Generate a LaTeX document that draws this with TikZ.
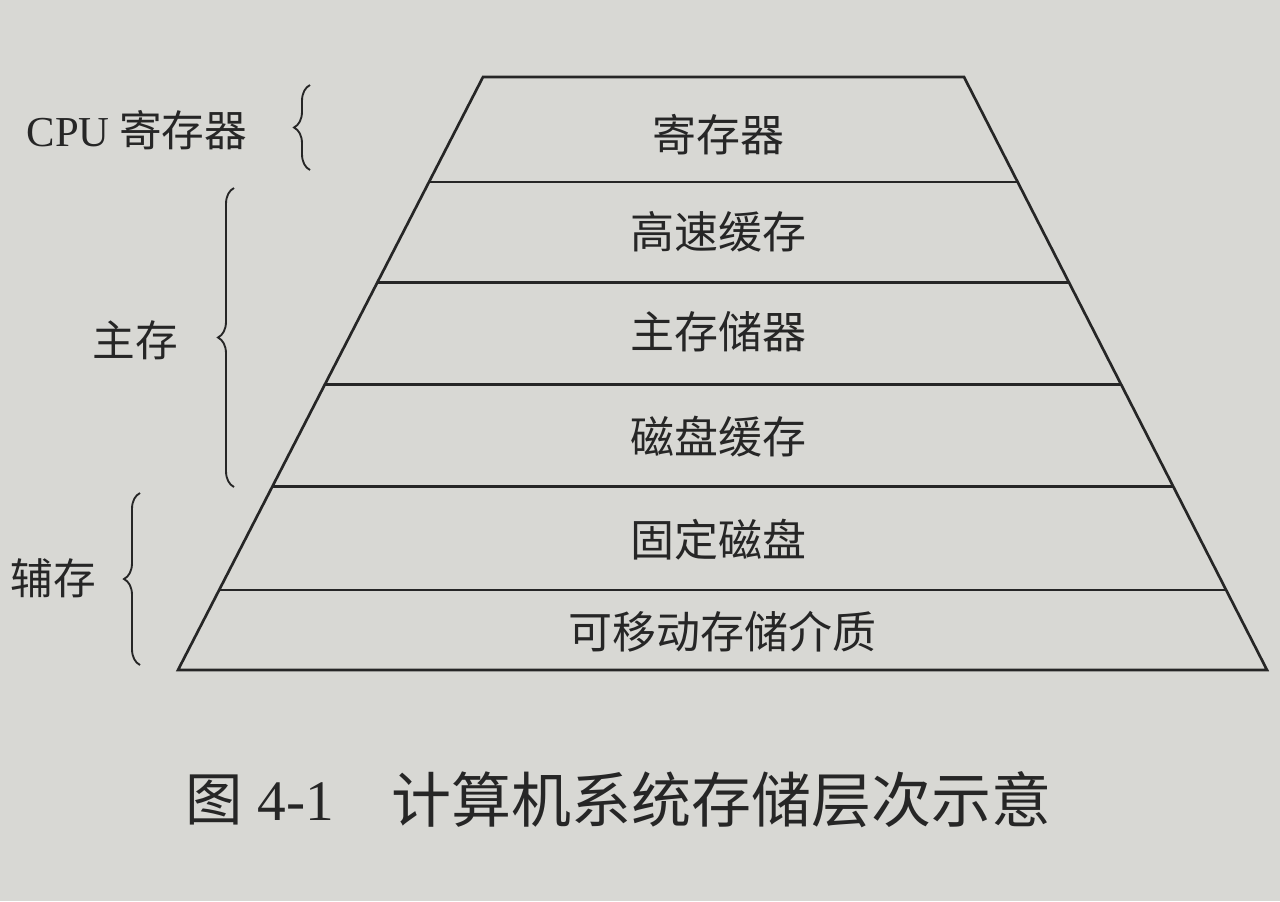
\documentclass[tikz,border=0pt]{standalone}
\usepackage{fontspec}
\setmainfont{Liberation Serif}
\newfontfamily\cjk{Noto Sans CJK SC}
\usetikzlibrary{calc,decorations.pathreplacing}
\definecolor{paper}{RGB}{216,216,212}
\definecolor{ink}{RGB}{38,38,38}
\begin{document}
\begin{tikzpicture}[x=0.75pt,y=-0.75pt,
  edge/.style={draw=ink,line width=2pt,line join=miter},
  layerline/.style={draw=ink,line width=2pt},
  lbl/.style={text=ink,inner sep=0pt,font=\cjk\fontsize{33}{38}\selectfont},
  sidelbl/.style={text=ink,inner sep=0pt,font=\cjk\fontsize{32}{38}\selectfont},
  bracestyle/.style={draw=ink,line width=1.4pt,decorate,decoration={brace,amplitude=12pt}},
  captionstyle/.style={text=ink,inner sep=0pt}]
\fill[paper] (0,0) rectangle (1280,901);
\useasboundingbox (0,0) rectangle (1280,901);
% trapezoid corners
\coordinate (TL) at (483,77);
\coordinate (TR) at (964,77);
\coordinate (BR) at (1267,670);
\coordinate (BL) at (178,670);
\draw[edge] (TL) -- (TR) -- (BR) -- (BL) -- cycle;
% layer boundaries
\foreach \n/\t in {1/0.177,2/0.347,3/0.519,4/0.691,5/0.865}{
  \coordinate (L\n) at ($(TL)!\t!(BL)$);
  \coordinate (R\n) at ($(TR)!\t!(BR)$);
  \draw[layerline] (L\n) -- (R\n);
}
% layer labels
\node[lbl] (reg) at (718,135) {寄存器};
\node[lbl] (cache) at (718,232) {高速缓存};
\node[lbl] (mem) at (718,332) {主存储器};
\node[lbl] (dcache) at (718,437) {磁盘缓存};
\node[lbl] (disk) at (718,540) {固定磁盘};
\node[lbl] (rem) at (722,632) {可移动存储介质};
% side labels and braces
\node[sidelbl] (cpu) at (137,130) {{\rmfamily CPU} 寄存器};
\node[sidelbl] (main) at (135,340) {主存};
\node[sidelbl] (aux) at (53,578) {辅存};
\coordinate (b1s) at (310,170);
\coordinate (b1e) at (310,85);
\coordinate (b2s) at (234,487);
\coordinate (b2e) at (234,188);
\coordinate (b3s) at (140,665);
\coordinate (b3e) at (140,493);
\draw[bracestyle] (b1s) -- (b1e);
\draw[bracestyle] (b2s) -- (b2e);
\draw[bracestyle] (b3s) -- (b3e);
% caption
\node[captionstyle,font=\fontsize{43}{50}\selectfont] (fignum) at (260,800) {{\cjk 图} 4-1};
\node[captionstyle,font=\cjk\fontsize{45}{52}\selectfont] (title) at (721,800) {计算机系统存储层次示意};
\end{tikzpicture}
\end{document}
